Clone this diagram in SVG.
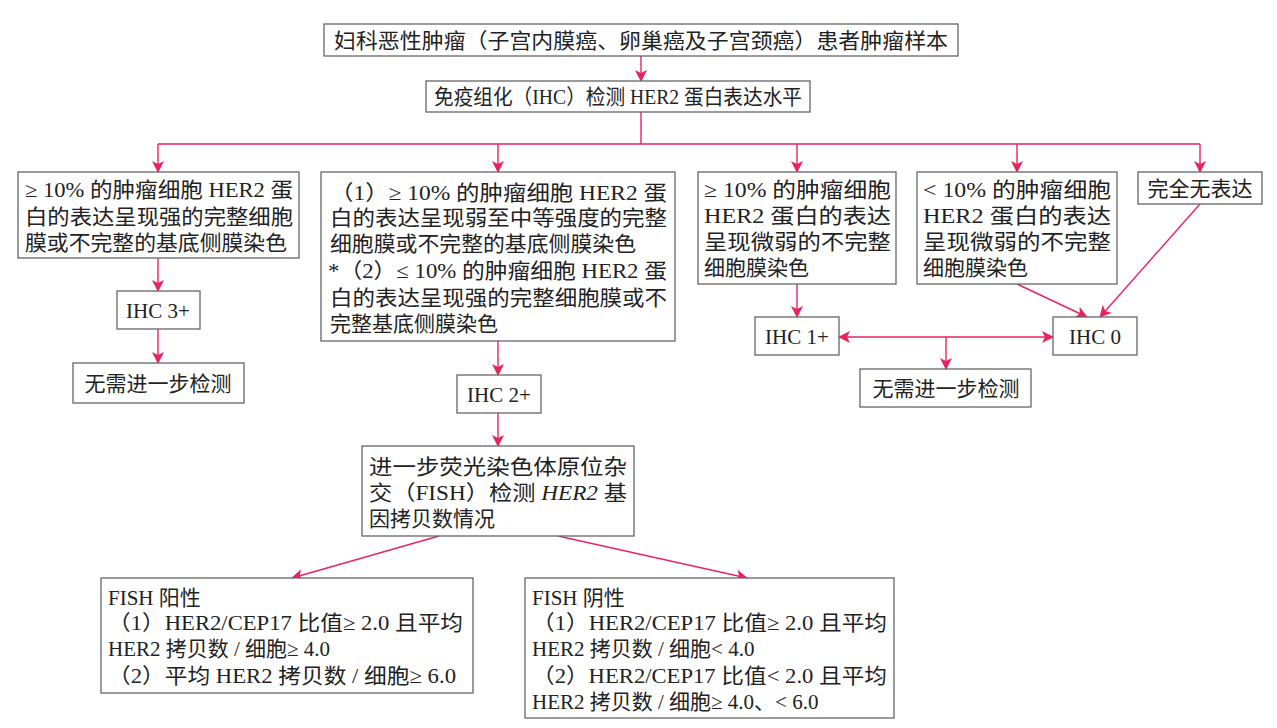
<svg xmlns="http://www.w3.org/2000/svg" width="1277" height="728" viewBox="0 0 1277 728">
<style>
.b{fill:#fff;stroke:#666;stroke-width:1.3}
text{font-family:"Liberation Serif","Noto Sans CJK SC",serif;font-size:21px;fill:#222}
.c{text-anchor:middle}
.l{fill:none;stroke:#e8245f;stroke-width:1.4}
</style>
<defs><marker id="a" viewBox="0 0 12 12" refX="11" refY="6" markerWidth="12" markerHeight="12" markerUnits="userSpaceOnUse" orient="auto"><path d="M0,0 L12,6 L0,12 L3,6 Z" fill="#e8245f"/></marker></defs>
<rect width="1277" height="728" fill="#fff"/>
<g id="connectors">
<path class="l" d="M641,56 V81" marker-end="url(#a)"/>
<path class="l" d="M641,112 V144 M158,144 H1200"/>
<path class="l" d="M158,144 V172" marker-end="url(#a)"/>
<path class="l" d="M498,144 V172" marker-end="url(#a)"/>
<path class="l" d="M797,144 V172" marker-end="url(#a)"/>
<path class="l" d="M1017,144 V172" marker-end="url(#a)"/>
<path class="l" d="M1200,144 V172" marker-end="url(#a)"/>
<path class="l" d="M158,258 V291" marker-end="url(#a)"/>
<path class="l" d="M158,329 V363" marker-end="url(#a)"/>
<path class="l" d="M498,341 V375" marker-end="url(#a)"/>
<path class="l" d="M498,413 V446" marker-end="url(#a)"/>
<path class="l" d="M797,284 V317" marker-end="url(#a)"/>
<path class="l" d="M1017,284 L1087,317" marker-end="url(#a)"/>
<path class="l" d="M1200,204 L1100,317" marker-end="url(#a)"/>
<path class="l" d="M946,337 H839" marker-end="url(#a)"/>
<path class="l" d="M946,337 H1053" marker-end="url(#a)"/>
<path class="l" d="M946,337 V369" marker-end="url(#a)"/>
<path class="l" d="M439,536 L292,578" marker-end="url(#a)"/>
<path class="l" d="M558,536 L747,578" marker-end="url(#a)"/>
</g>
<g id="n1"><rect class="b" x="324" y="24" width="634" height="32"/><text x="334" y="48" textLength="614" lengthAdjust="spacingAndGlyphs">妇科恶性肿瘤（子宫内膜癌、卵巢癌及子宫颈癌）患者肿瘤样本</text></g>
<g id="n2"><rect class="b" x="426" y="81" width="384" height="31"/><text x="434" y="104" textLength="368" lengthAdjust="spacingAndGlyphs">免疫组化（IHC）检测 HER2 蛋白表达水平</text></g>
<g id="n3"><rect class="b" x="18" y="172" width="281" height="86"/><text><tspan x="25" y="197" textLength="268" lengthAdjust="spacingAndGlyphs">≥ 10% 的肿瘤细胞 HER2 蛋</tspan><tspan x="25" y="224" textLength="268" lengthAdjust="spacingAndGlyphs">白的表达呈现强的完整细胞</tspan><tspan x="25" y="250" textLength="262" lengthAdjust="spacingAndGlyphs">膜或不完整的基底侧膜染色</tspan></text></g>
<g id="n4"><rect class="b" x="117" y="291" width="83" height="38"/><text class="c" x="158" y="318">IHC 3+</text></g>
<g id="n5"><rect class="b" x="73" y="363" width="171" height="40"/><text class="c" x="158" y="391">无需进一步检测</text></g>
<g id="n6"><rect class="b" x="321" y="172" width="354" height="169"/><text><tspan x="330" y="200" textLength="337" lengthAdjust="spacingAndGlyphs">（1）≥ 10% 的肿瘤细胞 HER2 蛋</tspan><tspan x="330" y="225" textLength="337" lengthAdjust="spacingAndGlyphs">白的表达呈现弱至中等强度的完整</tspan><tspan x="330" y="251" textLength="306" lengthAdjust="spacingAndGlyphs">细胞膜或不完整的基底侧膜染色</tspan><tspan x="328" y="278" textLength="339" lengthAdjust="spacingAndGlyphs">*（2）≤ 10% 的肿瘤细胞 HER2 蛋</tspan><tspan x="330" y="305" textLength="337" lengthAdjust="spacingAndGlyphs">白的表达呈现强的完整细胞膜或不</tspan><tspan x="330" y="331">完整基底侧膜染色</tspan></text></g>
<g id="n7"><rect class="b" x="457" y="375" width="84" height="38"/><text class="c" x="499" y="402">IHC 2+</text></g>
<g id="n8"><rect class="b" x="362" y="446" width="272" height="90"/><text><tspan x="369" y="474" textLength="258" lengthAdjust="spacingAndGlyphs">进一步荧光染色体原位杂</tspan><tspan x="369" y="500" textLength="258" lengthAdjust="spacingAndGlyphs">交（FISH）检测 <tspan font-style="italic">HER2</tspan> 基</tspan><tspan x="369" y="526">因拷贝数情况</tspan></text></g>
<g id="n9"><rect class="b" x="698" y="172" width="198" height="112"/><text><tspan x="704" y="197" textLength="187" lengthAdjust="spacingAndGlyphs">≥ 10% 的肿瘤细胞</tspan><tspan x="704" y="223" textLength="187" lengthAdjust="spacingAndGlyphs">HER2 蛋白的表达</tspan><tspan x="704" y="249" textLength="187" lengthAdjust="spacingAndGlyphs">呈现微弱的不完整</tspan><tspan x="704" y="275">细胞膜染色</tspan></text></g>
<g id="n10"><rect class="b" x="917" y="172" width="200" height="112"/><text><tspan x="923" y="197" textLength="188" lengthAdjust="spacingAndGlyphs">&lt; 10% 的肿瘤细胞</tspan><tspan x="923" y="223" textLength="188" lengthAdjust="spacingAndGlyphs">HER2 蛋白的表达</tspan><tspan x="923" y="249" textLength="188" lengthAdjust="spacingAndGlyphs">呈现微弱的不完整</tspan><tspan x="923" y="275">细胞膜染色</tspan></text></g>
<g id="n11"><rect class="b" x="1138" y="172" width="124" height="32"/><text class="c" x="1200" y="196">完全无表达</text></g>
<g id="n12"><rect class="b" x="755" y="317" width="84" height="38"/><text class="c" x="797" y="344">IHC 1+</text></g>
<g id="n13"><rect class="b" x="1053" y="317" width="84" height="38"/><text class="c" x="1095" y="344">IHC 0</text></g>
<g id="n14"><rect class="b" x="860" y="369" width="171" height="38"/><text class="c" x="946" y="396">无需进一步检测</text></g>
<g id="n15"><rect class="b" x="101" y="578" width="372" height="115"/><text><tspan x="108" y="605">FISH 阳性</tspan><tspan x="108" y="630" textLength="355" lengthAdjust="spacingAndGlyphs">（1）HER2/CEP17 比值≥ 2.0 且平均</tspan><tspan x="108" y="656">HER2 拷贝数 / 细胞≥ 4.0</tspan><tspan x="108" y="683" textLength="348" lengthAdjust="spacingAndGlyphs">（2）平均 HER2 拷贝数 / 细胞≥ 6.0</tspan></text></g>
<g id="n16"><rect class="b" x="525" y="578" width="369" height="140"/><text><tspan x="532" y="605">FISH 阴性</tspan><tspan x="532" y="630" textLength="355" lengthAdjust="spacingAndGlyphs">（1）HER2/CEP17 比值≥ 2.0 且平均</tspan><tspan x="532" y="656">HER2 拷贝数 / 细胞&lt; 4.0</tspan><tspan x="532" y="683" textLength="355" lengthAdjust="spacingAndGlyphs">（2）HER2/CEP17 比值&lt; 2.0 且平均</tspan><tspan x="532" y="709">HER2 拷贝数 / 细胞≥ 4.0、&lt; 6.0</tspan></text></g>
</svg>
